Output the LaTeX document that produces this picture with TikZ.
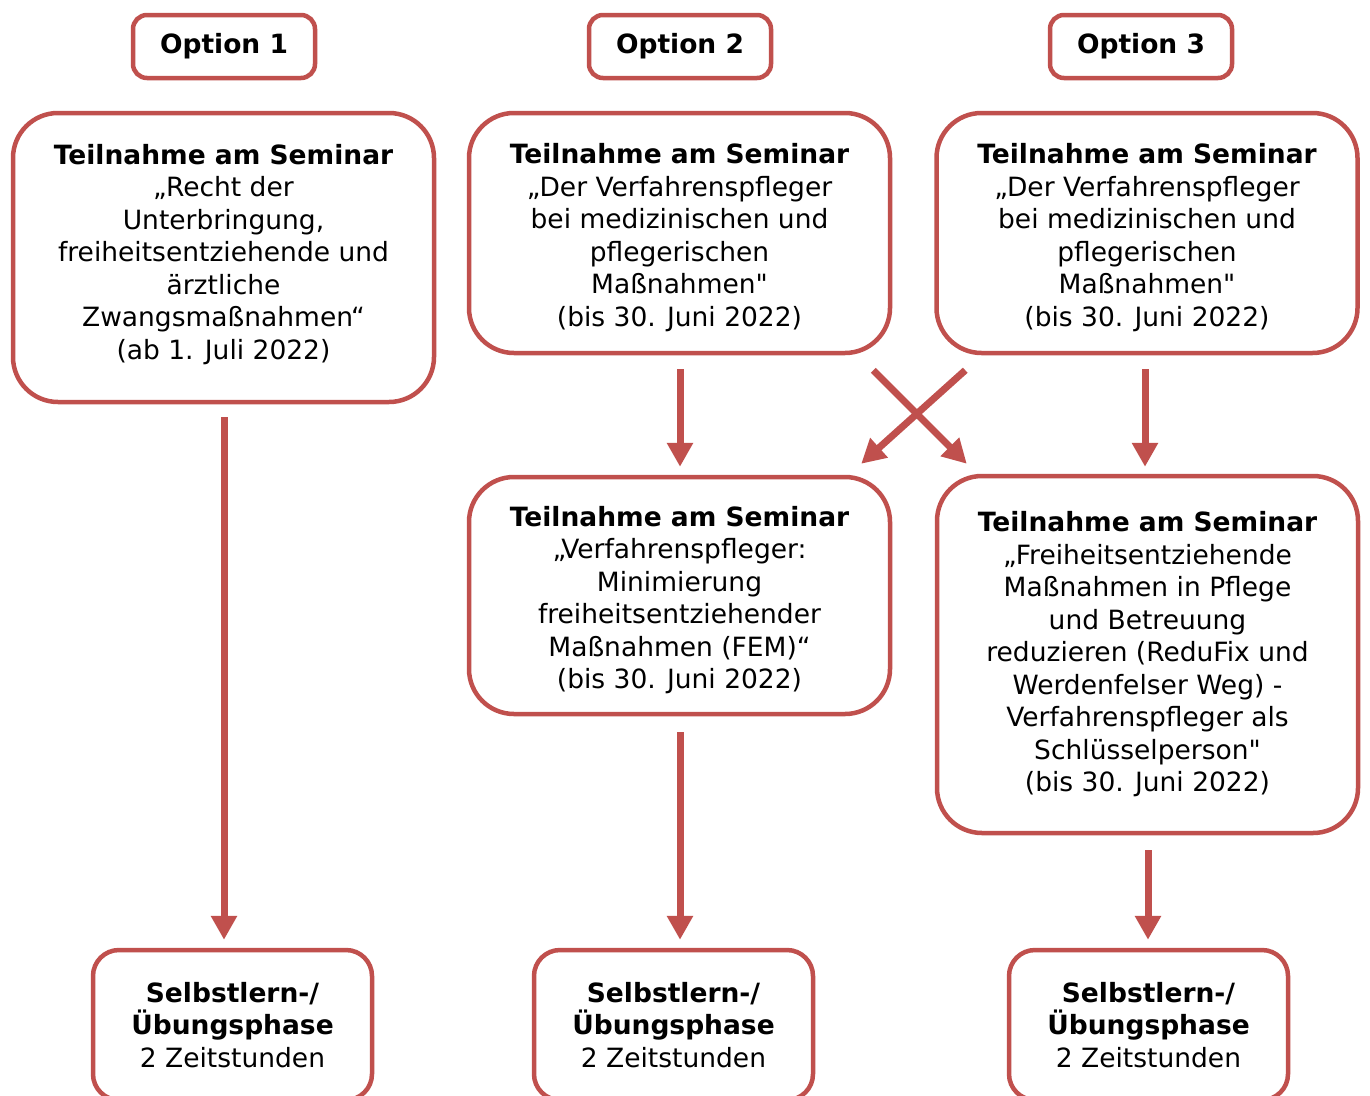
\documentclass[tikz,border=0pt]{standalone}
\usepackage{fontspec}
\setmainfont{DejaVu Sans}[Ligatures=TeXOff]
\usetikzlibrary{arrows.meta,calc}
\definecolor{myred}{RGB}{192,80,77}
\tikzset{
  basefont/.style={font=\fontsize{26.5pt}{32.5pt}\selectfont},
  optbox/.style={draw=myred, line width=4.5pt, rounded corners=14pt, minimum width=182pt, minimum height=63pt, inner sep=0pt, font=\fontsize{26.5pt}{32.5pt}\selectfont\bfseries},
  sembox/.style={draw=myred, line width=4.5pt, rounded corners=45pt, align=center, inner sep=0pt, minimum width=421pt, basefont},
  selfbox/.style={draw=myred, line width=4.5pt, rounded corners=26pt, align=center, inner sep=0pt, minimum width=279pt, minimum height=150pt, basefont},
  arr/.style={draw=myred, line width=7pt, -{Triangle[length=24pt,width=25pt]}}
}
\begin{document}
\begin{tikzpicture}[x=1pt,y=-1pt]
\clip (0,0) rectangle (1370,1095);
\fill[white] (0,0) rectangle (1370,1095);
% option headers
\node[optbox] (o1) at (224,46.5) {Option 1};
\node[optbox] (o2) at (680,46.5) {Option 2};
\node[optbox] (o3) at (1141,46.5) {Option 3};
% seminar boxes
\node[sembox, minimum height=289pt] (s1) at (223.5,257.5) {\textbf{Teilnahme am Seminar}\\„Recht der\\Unterbringung,\\freiheitsentziehende und\\ärztliche\\Zwangsmaßnahmen“\\(ab 1. Juli 2022)\\[-21pt]};
\node[sembox, minimum height=240pt] (s2) at (679.5,233) {\\[-3pt]\textbf{Teilnahme am Seminar}\\„Der Verfahrenspfleger\\bei medizinischen und\\pflegerischen\\Maßnahmen"\\(bis 30. Juni 2022)};
\node[sembox, minimum height=240pt] (s3) at (1147,233) {\\[-3pt]\textbf{Teilnahme am Seminar}\\„Der Verfahrenspfleger\\bei medizinischen und\\pflegerischen\\Maßnahmen"\\(bis 30. Juni 2022)};
\node[sembox, minimum height=237pt] (s2b) at (679.5,595.5) {\\[-3pt]\textbf{Teilnahme am Seminar}\\„Verfahrenspfleger:\\Minimierung\\freiheitsentziehender\\Maßnahmen (FEM)“\\(bis 30. Juni 2022)};
\node[sembox, minimum height=357pt] (s3b) at (1147.5,654.5) {\textbf{Teilnahme am Seminar}\\„Freiheitsentziehende\\Maßnahmen in Pflege\\und Betreuung\\reduzieren (ReduFix und\\Werdenfelser Weg) -\\Verfahrenspfleger als\\Schlüsselperson"\\(bis 30. Juni 2022)};
% self-study boxes
\node[selfbox] (b1) at (232.5,1025) {\textbf{Selbstlern-/}\\\textbf{Übungsphase}\\2 Zeitstunden};
\node[selfbox] (b2) at (673.5,1025) {\textbf{Selbstlern-/}\\\textbf{Übungsphase}\\2 Zeitstunden};
\node[selfbox] (b3) at (1148.5,1025) {\textbf{Selbstlern-/}\\\textbf{Übungsphase}\\2 Zeitstunden};
% arrows
\draw[arr, shorten <=13pt, shorten >=8pt] (s1.south -| 224,0) -- (b1.north -| 224,0);
\draw[arr, shorten <=14pt, shorten >=8pt] (s2.south -| 680,0) -- (s2b.north -| 680,0);
\draw[arr, shorten <=14pt, shorten >=7pt] (s3.south -| 1145,0) -- (s3b.north -| 1145,0);
\draw[arr, shorten <=16pt, shorten >=8pt] (s2b.south -| 680,0) -- (b2.north -| 680,0);
\draw[arr, shorten <=15pt, shorten >=8pt] (s3b.south -| 1148,0) -- (b3.north -| 1148,0);
% crossing arrows
\coordinate (c1s) at ($(s2.south east)+(-19,15)$);
\coordinate (c1e) at ($(s3b.north west)+(32,-10)$);
\coordinate (c2s) at ($(s3.south west)+(31,15)$);
\coordinate (c2e) at ($(s2b.north east)+(-31,-11)$);
\draw[arr] (c1s) -- (c1e);
\draw[arr] (c2s) -- (c2e);
\end{tikzpicture}
\end{document}
